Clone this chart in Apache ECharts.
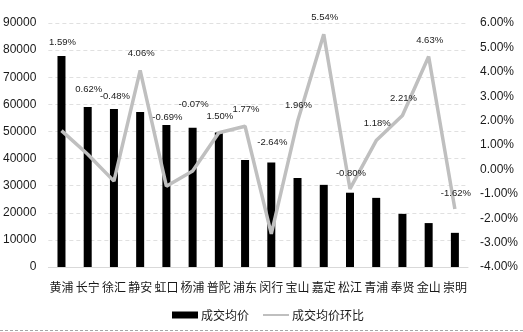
<!DOCTYPE html>
<html>
<head>
<meta charset="utf-8">
<script src="https://cdn.jsdelivr.net/npm/echarts@6/dist/echarts.min.js"></script>
<style>
  html, body { margin: 0; padding: 0; background: #fff; }
  #chart { width: 523px; height: 332px; }
</style>
</head>
<body>
<div id="chart"></div>
<script>
// 上海各区成交均价（元/㎡）与环比
const districts = ['黄浦', '长宁', '徐汇', '静安', '虹口', '杨浦', '普陀', '浦东', '闵行', '宝山', '嘉定', '松江', '青浦', '奉贤', '金山', '崇明'];
const avgPrice = [77800, 59000, 58300, 57200, 52400, 51400, 49600, 39500, 38500, 32800, 30300, 27400, 25500, 19600, 16200, 12600];
const momChange = [1.59, 0.62, -0.48, 4.06, -0.69, -0.07, 1.50, 1.77, -2.64, 1.96, 5.54, -0.80, 1.18, 2.21, 4.63, -1.62];
const priceTicks = { min: 0, max: 90000, step: 10000 };
const changeTicks = { min: -4, max: 6, step: 1 };

// vertical shift of each percentage label relative to its point (px)
const labelLift = [-88, -65, -85, -17, -69, -67, -16, -17, -91, -16, -17, -16, -17, -17, -16, -16];

const textColor = '#1a1a1a';
const font = '"Liberation Sans", "Noto Sans CJK SC", sans-serif';

const chart = echarts.init(document.getElementById('chart'), null, { renderer: 'canvas' });

chart.setOption({
  animation: false,
  backgroundColor: '#fff',
  grid: { left: 47, right: 55, top: 23, bottom: 65, containLabel: false },
  legend: {
    left: 167,
    top: 304,
    itemWidth: 26,
    itemHeight: 7,
    itemGap: 13,
    textStyle: { fontSize: 12, color: textColor, fontFamily: '"Noto Sans CJK SC", sans-serif', padding: [0, 0, 0, -2] },
    data: [
      { name: '成交均价', icon: 'rect' },
      { name: '成交均价环比' }
    ]
  },
  xAxis: {
    type: 'category',
    data: districts,
    axisTick: { show: false },
    axisLine: { show: true, lineStyle: { color: '#d9d9d9', width: 1 } },
    axisLabel: { color: textColor, fontSize: 12, margin: 14, interval: 0, fontFamily: '"Noto Sans CJK SC", sans-serif' }
  },
  yAxis: [
    {
      type: 'value',
      min: priceTicks.min, max: priceTicks.max, interval: priceTicks.step,
      axisLine: { show: false },
      axisTick: { show: false },
      axisLabel: { color: textColor, fontSize: 12, margin: 12, fontFamily: font, formatter: v => String(v) },
      splitLine: { show: true, lineStyle: { color: '#e0e0e0', type: [4, 3], width: 1 } }
    },
    {
      type: 'value',
      min: changeTicks.min, max: changeTicks.max, interval: changeTicks.step,
      axisLine: { show: false },
      axisTick: { show: false },
      axisLabel: { color: textColor, fontSize: 12, margin: 12, fontFamily: font, formatter: v => v.toFixed(2) + '%' },
      splitLine: { show: false }
    }
  ],
  series: [
    {
      name: '成交均价',
      type: 'bar',
      data: avgPrice,
      barWidth: 8,
      itemStyle: { color: '#000' },
      z: 2
    },
    {
      name: '成交均价环比',
      type: 'line',
      yAxisIndex: 1,
      data: momChange.map((v, i) => ({
        value: v,
        label: { offset: [1, labelLift[i]] }
      })),
      symbol: 'circle',
      symbolSize: 1,
      showSymbol: true,
      itemStyle: { color: 'rgba(0,0,0,0)' },
      lineStyle: { color: '#bfbfbf', width: 3.5 },
      label: {
        show: true,
        position: 'inside',
        color: textColor,
        fontSize: 9.5,
        fontFamily: font,
        formatter: p => p.value.toFixed(2) + '%'
      },
      z: 3
    }
  ],
  graphic: [
    {
      type: 'line',
      shape: { x1: 0, y1: 330.5, x2: 523, y2: 330.5 },
      style: { stroke: '#a6a6a6', lineWidth: 1, lineDash: [3, 2] },
      silent: true
    }
  ]
});
</script>
</body>
</html>
